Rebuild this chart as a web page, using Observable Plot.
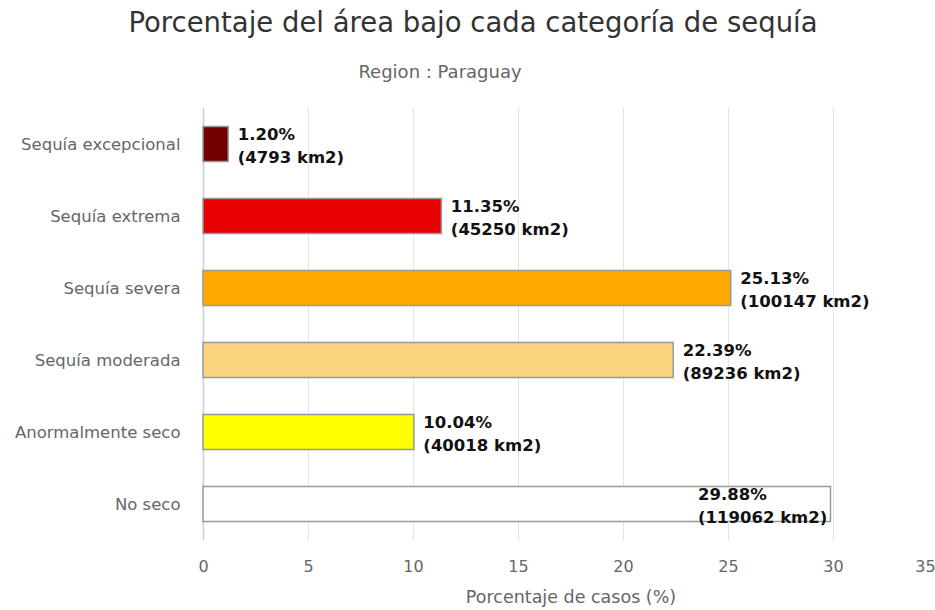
<!DOCTYPE html>
<html>
<head>
<meta charset="utf-8">
<script src="https://cdn.jsdelivr.net/npm/d3@7"></script>
<script src="https://cdn.jsdelivr.net/npm/@observablehq/plot@0.6"></script>
<style>
  html, body { margin: 0; padding: 0; background: #fff; overflow: hidden; width: 935px; height: 610px; }
  #header { position: relative; height: 90px; }
  #title { position: absolute; left: 0; width: 946px; top: 3px; text-align: center;
           font-family: "DejaVu Sans", sans-serif; font-size: 27.5px; color: #333; line-height: 38px; }
  #subtitle { position: absolute; left: 0; width: 880px; top: 60px; text-align: center;
           font-family: "DejaVu Sans", sans-serif; font-size: 18px; color: #666; line-height: 24px; }
  #chart svg { display: block; max-width: none !important; }
</style>
</head>
<body>
<div id="header">
  <div id="title">Porcentaje del área bajo cada categoría de sequía</div>
  <div id="subtitle">Region : Paraguay</div>
</div>
<div id="chart"></div>
<script>
const categories = ["Sequía excepcional", "Sequía extrema", "Sequía severa", "Sequía moderada", "Anormalmente seco", "No seco"];
const percentValues = [1.20, 11.35, 25.13, 22.39, 10.04, 29.88];
const areaKm2 = [4793, 45250, 100147, 89236, 40018, 119062];
const barColors = ["#730000", "#e60000", "#ffaa00", "#fcd37f", "#ffff00", "#ffffff"];
const xTicks = [0, 5, 10, 15, 20, 25, 30, 35];
const xLabel = "Porcentaje de casos (%)";

const rows = categories.map((c, i) => ({
  category: c,
  value: percentValues[i],
  area: areaKm2[i],
  color: barColors[i],
  label: `${percentValues[i].toFixed(2)}%\n(${areaKm2[i]} km2)`
}));
const outside = rows.filter(d => d.category !== "No seco");
const inside = rows.filter(d => d.category === "No seco");
const lastTick = xTicks[xTicks.length - 1];
const innerTicks = xTicks.slice(0, -1);

const chart = Plot.plot({
  width: 950,
  height: 520,
  marginTop: 18,
  marginBottom: 70,
  marginLeft: 203,
  marginRight: 12,
  style: { fontFamily: "DejaVu Sans, sans-serif", background: "#fff", maxWidth: "none" },
  x: { domain: [0, 35] },
  y: { domain: categories, padding: 0 },
  marks: [
    Plot.gridX(xTicks, { stroke: "#e3e3e3", strokeOpacity: 1, strokeWidth: 1 }),
    Plot.ruleX([0], { stroke: "#c0d0e0", strokeWidth: 1.5 }),
    Plot.barX(rows, {
      x: "value", y: "category", fill: "color",
      stroke: "#999", strokeWidth: 1.5,
      insetTop: 18.5, insetBottom: 18.5
    }),
    Plot.text(outside, {
      x: "value", y: "category", text: "label",
      textAnchor: "start", dx: 9, lineHeight: 1.4,
      fontSize: 16.5, fontWeight: "bold", fill: "#111"
    }),
    Plot.text(inside, {
      x: "value", y: "category", text: "label",
      textAnchor: "start", dx: -133, lineHeight: 1.4,
      fontSize: 16.5, fontWeight: "bold", fill: "#111"
    }),
    Plot.axisY({ tickSize: 0, tickPadding: 23, fontSize: 16.5, color: "#666", label: null }),
    Plot.axisX(innerTicks, {
      tickSize: 0, tickPadding: 20, fontSize: 16, color: "#666",
      label: xLabel, labelAnchor: "center", labelArrow: "none", labelOffset: 62
    }),
    Plot.axisX([lastTick], {
      tickSize: 0, tickPadding: 20, fontSize: 16, color: "#666", dx: -13, label: null
    })
  ]
});
chart.querySelectorAll("g[aria-label='x-axis label'] text").forEach(t => t.setAttribute("font-size", "17.5"));
document.getElementById("chart").appendChild(chart);
</script>
</body>
</html>
